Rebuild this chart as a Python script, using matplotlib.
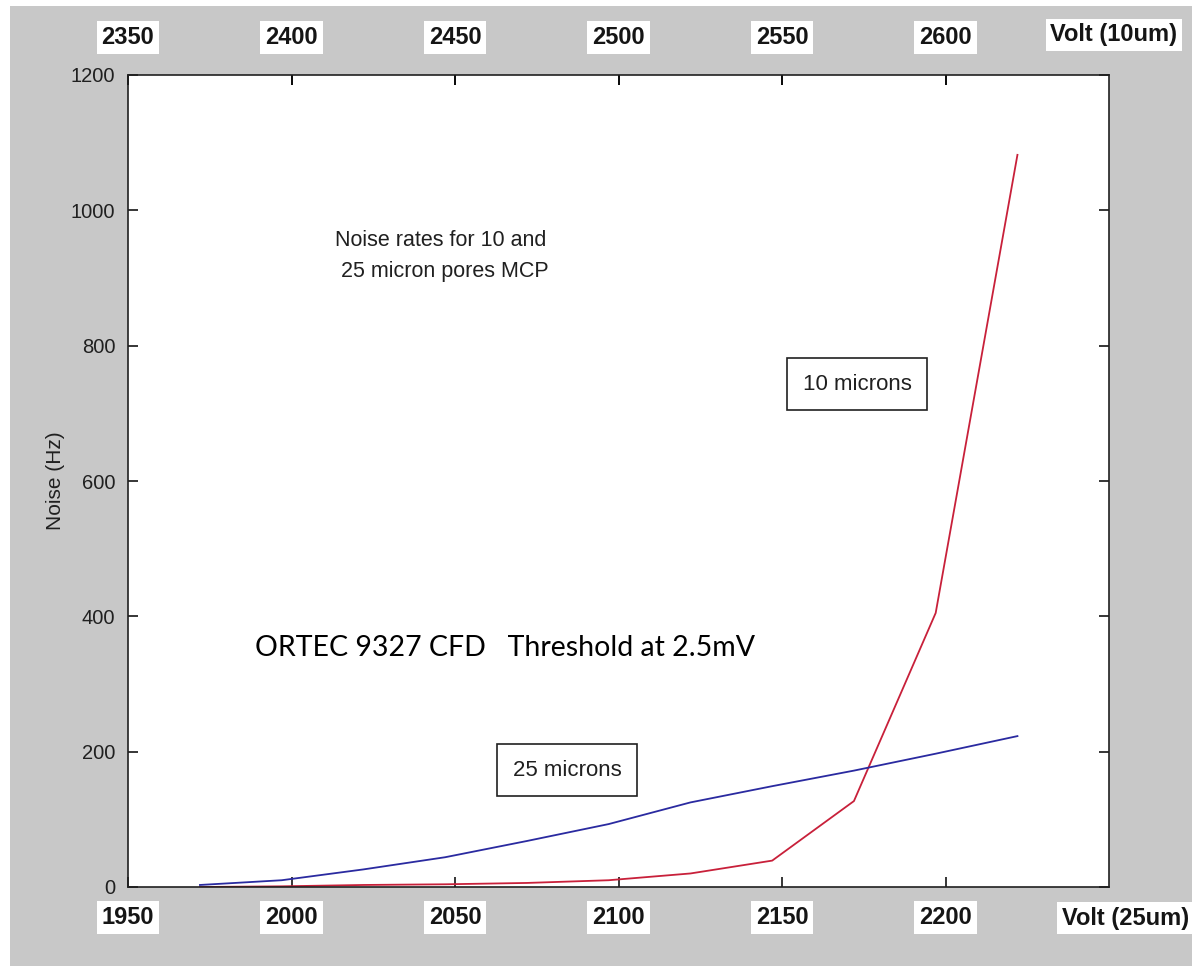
import matplotlib
matplotlib.use("Agg")
import matplotlib.pyplot as plt
from matplotlib.patches import Rectangle

# MCP dark-noise measurements
volts_25um = [1972, 1997, 2022, 2047, 2072, 2097, 2122, 2147, 2172, 2197, 2222]
noise_10um = [0, 1, 3, 4, 6, 10, 20, 39, 127, 405, 1082]
noise_25um = [3, 10, 26, 44, 68, 93, 125, 149, 172, 197, 223]

bottom_ticks = [1950, 2000, 2050, 2100, 2150, 2200]
top_ticks = [2350, 2400, 2450, 2500, 2550, 2600]
volt_offset_10um = 400
y_ticks = [0, 200, 400, 600, 800, 1000, 1200]

W, H = 1192, 966
fig = plt.figure(figsize=(W / 100, H / 100), dpi=100, facecolor="white")

# grey window background
fig.patches.append(Rectangle((10 / W, 0), 1 - 10 / W, 1 - 6 / H,
                             transform=fig.transFigure, facecolor="#c8c8c8",
                             edgecolor="none", zorder=-10))

ax = fig.add_axes([128 / W, 1 - 887 / H, (1109 - 128) / W, (887 - 75) / H])
ax.set_facecolor("white")

ax.plot(volts_25um, noise_10um, color="#c8203a", lw=1.3)
ax.plot(volts_25um, noise_25um, color="#2a2aa0", lw=1.3)

ax.set_xlim(1950, 2250)
ax.set_ylim(0, 1200)

for s in ax.spines.values():
    s.set_linewidth(1.2)
    s.set_color("#202020")

label_font = ["Liberation Sans", "DejaVu Sans"]
regular = ["Liberation Sans", "DejaVu Sans"]

ax.set_yticks(y_ticks)
ax.set_yticklabels([str(v) for v in y_ticks], fontsize=14.5, family=regular,
                   color="#202020")
ax.tick_params(axis="y", direction="in", length=7, width=1.1, right=True,
               pad=9)

box = dict(facecolor="white", edgecolor="none", pad=3.5)
ax.set_xticks(bottom_ticks)
ax.set_xticklabels([str(v) for v in bottom_ticks], fontsize=17,
                   fontweight="bold", family=label_font, color="#151515",
                   bbox=box)
ax.tick_params(axis="x", direction="in", length=7, width=1.1, top=True,
               pad=14)

top = ax.secondary_xaxis("top", functions=(lambda v: v + volt_offset_10um,
                                           lambda v: v - volt_offset_10um))
top.set_xticks(top_ticks)
top.set_xticklabels([str(v) for v in top_ticks], fontsize=17,
                    fontweight="bold", family=label_font, color="#151515",
                    bbox=box)
top.tick_params(axis="x", direction="in", length=7, width=1.1, pad=19)
top.spines["top"].set_visible(False)

fig.text(1114 / W, 1 - 35 / H, "Volt (10um)", fontsize=17, fontweight="bold",
         family=label_font, ha="center", va="center", color="#151515",
         bbox=box)
fig.text(1126 / W, 1 - 918 / H, "Volt (25um)", fontsize=17, fontweight="bold",
         family=label_font, ha="center", va="center", color="#151515",
         bbox=box)

ax.set_ylabel("Noise (Hz)", fontsize=15, family=regular, color="#202020",
              labelpad=4)

def px(x, y):
    return x / W, 1 - y / H

fig.text(*px(335, 241), "Noise rates for 10 and", fontsize=15.5,
         family=regular, ha="left", va="center", color="#202020")
fig.text(*px(335, 271), " 25 micron pores MCP", fontsize=15.5,
         family=regular, ha="left", va="center", color="#202020")

fig.text(*px(255, 648), "ORTEC 9327 CFD   Threshold at 2.5mV", fontsize=20.5,
         family=["Lato", "DejaVu Sans"], ha="left", va="center",
         color="black")

lbl_box = dict(facecolor="white", edgecolor="#202020", linewidth=1.2,
               boxstyle="square,pad=0.7")
fig.text(*px(857, 384), "10 microns", fontsize=16, family=regular,
         ha="center", va="center", color="#202020", bbox=lbl_box)
fig.text(*px(567, 770), "25 microns", fontsize=16, family=regular,
         ha="center", va="center", color="#202020", bbox=lbl_box)

fig.savefig("out.png", dpi=100, facecolor=fig.get_facecolor())
